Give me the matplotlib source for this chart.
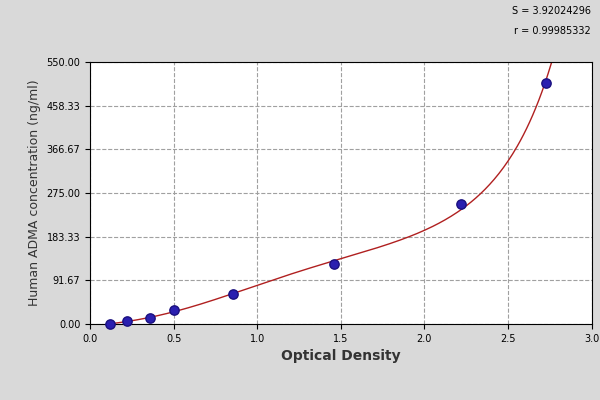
import numpy as np
import matplotlib
matplotlib.use("Agg")
import matplotlib.pyplot as plt

od = [0.12, 0.22, 0.36, 0.50, 0.855, 1.46, 2.22, 2.73]
conc = [0.0, 6.0, 12.5, 29.0, 63.0, 126.0, 252.0, 506.0]
yticks = [0.00, 91.67, 183.33, 275.00, 366.67, 458.33, 550.00]
ytick_labels = ["0.00", "91.67", "183.33", "275.00", "366.67", "458.33", "550.00"]
xticks = [0.0, 0.5, 1.0, 1.5, 2.0, 2.5, 3.0]

fig = plt.figure(figsize=(6, 4), dpi=100, facecolor="#d9d9d9")
ax = fig.add_axes([0.15, 0.19, 0.836, 0.655])
ax.set_facecolor("white")

k = 10.0
coef = np.polyfit(od, np.log(np.array(conc) + k), 3)
xs = np.linspace(0.1, 2.85, 300)
ys = np.exp(np.polyval(coef, xs)) - k
ax.plot(xs, ys, color="#b02020", lw=1)
ax.scatter(od, conc, s=45, color="#2a1fb0", zorder=3, edgecolors="#1a1080", clip_on=False)

ax.set_xlim(0, 3.0)
ax.set_ylim(0, 550)
ax.set_xticks(xticks)
ax.set_xticklabels([f"{t:.1f}" for t in xticks], fontsize=7)
ax.set_yticks(yticks)
ax.set_yticklabels(ytick_labels, fontsize=7)
ax.grid(True, ls="--", color="#a0a0a0", lw=0.8)
ax.set_xlabel("Optical Density", fontsize=10, fontweight="bold", color="#333333")
ax.set_ylabel("Human ADMA concentration (ng/ml)", fontsize=9, color="#333333")
fig.text(0.985, 0.965, "S = 3.92024296", ha="right", fontsize=7)
fig.text(0.985, 0.915, "r = 0.99985332", ha="right", fontsize=7)
fig.savefig("out.png", facecolor=fig.get_facecolor())
